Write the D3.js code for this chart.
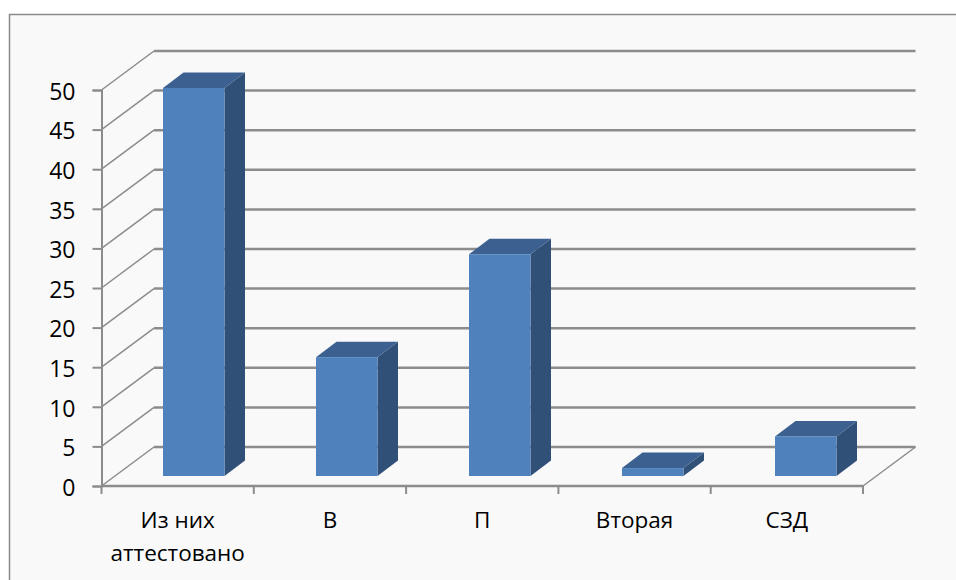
<!DOCTYPE html>
<html>
<head>
<meta charset="utf-8">
<script src="https://cdn.jsdelivr.net/npm/d3@7"></script>
<style>
  html, body { margin: 0; padding: 0; background: #fff; }
  svg { display: block; }
  text { font-family: "Open Sans", sans-serif; fill: #000; }
</style>
</head>
<body>
<svg id="chart"></svg>
<script>
const categories = [["Из них", "аттестовано"], ["В"], ["П"], ["Вторая"], ["СЗД"]];
const values = [49, 15, 28, 1, 5];
const yTicks = [0, 5, 10, 15, 20, 25, 30, 35, 40, 45, 50];

const width = 956, height = 580;
const margin = {top: 90, right: 93, bottom: 94, left: 101.5};
const innerW = width - margin.left - margin.right;
const innerH = height - margin.top - margin.bottom;
// 3d offset of the back wall and of the bar's own depth
const wall = {dx: 52.5, dy: -39};
const depth = {dx: 20.5, dy: -15.5};
const floorLift = 10;
const gridColor = "#8c8c8c";

const svg = d3.select("#chart").attr("width", width).attr("height", height);

svg.append("rect")
    .attr("x", 9.5).attr("y", 14.5)
    .attr("width", width).attr("height", height)
    .attr("fill", "#f9f9f9")
    .attr("stroke", "#8a8a8a")
    .attr("stroke-width", 1.5);

const g = svg.append("g").attr("transform", `translate(${margin.left}, ${margin.top})`);

const xScale = d3.scaleBand().domain(d3.range(categories.length)).range([0, innerW]);
const yScale = d3.scaleLinear().domain([0, 50]).range([innerH, 0]);

// back wall gridlines
g.selectAll(".grid").data(yTicks).enter().append("line")
    .attr("x1", wall.dx).attr("x2", innerW + wall.dx)
    .attr("y1", d => yScale(d) + wall.dy).attr("y2", d => yScale(d) + wall.dy)
    .attr("stroke", gridColor).attr("stroke-width", 2.5);

// side wall diagonals
g.selectAll(".diag").data(yTicks).enter().append("line")
    .attr("x1", 0).attr("x2", wall.dx)
    .attr("y1", d => yScale(d)).attr("y2", d => yScale(d) + wall.dy)
    .attr("stroke", gridColor).attr("stroke-width", 1.5);

// floor right edge
g.append("line")
    .attr("x1", innerW).attr("x2", innerW + wall.dx)
    .attr("y1", innerH).attr("y2", innerH + wall.dy)
    .attr("stroke", gridColor).attr("stroke-width", 1.5);

// axes
const yAxis = g.append("g").call(d3.axisLeft(yScale).tickValues(yTicks).tickSize(9).tickPadding(17));
yAxis.selectAll("line, path").attr("stroke", gridColor).attr("stroke-width", 2);
yAxis.selectAll("text").style("font-size", "23px").attr("dy", "0.4em").attr("fill", "#000");

const xEdges = d3.range(categories.length + 1).map(i => i * xScale.step());
const xAxis = g.append("g").attr("transform", `translate(0, ${innerH})`);
xAxis.append("line").attr("x1", 0).attr("x2", innerW)
    .attr("stroke", gridColor).attr("stroke-width", 2.5);
xAxis.selectAll(".tick").data(xEdges).enter().append("line")
    .attr("x1", d => d).attr("x2", d => d).attr("y1", 0).attr("y2", 8)
    .attr("stroke", gridColor).attr("stroke-width", 2);

// bars
const barW = 61.5;
const barX = d3.scaleLinear().domain([0, categories.length - 1]).range([61.5, 673.5]);
const base = innerH - floorLift;
const barTop = v => base - (yScale(0) - yScale(v));

const bars = g.selectAll(".bar").data(values).enter().append("g");

// side face
bars.append("path")
    .attr("fill", "#315078")
    .attr("d", (d, i) => {
        const x = barX(i) + barW, t = barTop(d);
        return `M${x},${base}L${x + depth.dx},${base + depth.dy}L${x + depth.dx},${t + depth.dy}L${x},${t}Z`;
    });
// top face
bars.append("path")
    .attr("fill", "#3c608f")
    .attr("d", (d, i) => {
        const x = barX(i), t = barTop(d);
        return `M${x},${t}L${x + depth.dx},${t + depth.dy}L${x + barW + depth.dx},${t + depth.dy}L${x + barW},${t}Z`;
    });
// front face
bars.append("rect")
    .attr("x", (d, i) => barX(i))
    .attr("y", d => barTop(d))
    .attr("width", barW)
    .attr("height", d => base - barTop(d))
    .attr("fill", "#4f81bd");

// category labels
const labels = g.selectAll(".cat").data(categories).enter().append("text")
    .attr("text-anchor", "middle")
    .style("font-size", "22.5px")
    .attr("transform", (d, i) => `translate(${xScale(i) + xScale.step() / 2}, ${innerH + 42})`);
labels.selectAll("tspan").data(d => d).enter().append("tspan")
    .attr("x", 0)
    .attr("y", (d, i) => i * 33)
    .text(d => d);
</script>
</body>
</html>
